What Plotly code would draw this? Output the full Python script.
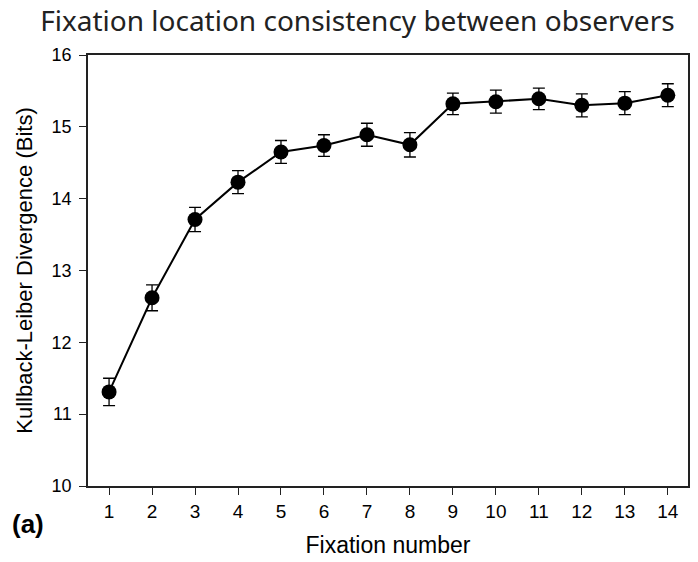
import plotly.graph_objects as go

# Fixation index and mean KL divergence between observers (bits)
fixation = list(range(1, 15))
kl_mean = [11.31, 12.62, 13.71, 14.23, 14.65, 14.74, 14.89, 14.75,
           15.32, 15.35, 15.39, 15.30, 15.33, 15.44]
kl_err = [0.19, 0.18, 0.17, 0.16, 0.16, 0.15, 0.16, 0.17,
          0.15, 0.16, 0.15, 0.16, 0.16, 0.16]
y_ticks = [10, 11, 12, 13, 14, 15, 16]

sans = "Liberation Sans, Arial, sans-serif"

fig = go.Figure()
fig.add_trace(go.Scatter(
    x=fixation, y=kl_mean,
    mode="lines+markers",
    line=dict(color="black", width=2),
    marker=dict(color="black", size=15),
    error_y=dict(type="data", array=kl_err, color="black",
                 thickness=1.3, width=6),
    showlegend=False,
))

fig.update_layout(
    width=698, height=562,
    margin=dict(l=88, r=8, t=55, b=74),
    plot_bgcolor="white", paper_bgcolor="white",
    title=dict(text="Fixation location consistency between observers",
               font=dict(family="Noto Sans, Open Sans, sans-serif", size=28, color="#222"),
               x=0.449, xanchor="center", xref="paper",
               y=0.9626, yref="container", yanchor="middle"),
    xaxis=dict(range=[0.51, 14.47], tickvals=fixation, ticks="outside",
               ticklen=7, tickwidth=1.3, tickcolor="#222",
               showline=True, linecolor="#222", linewidth=1.5, mirror=True,
               showgrid=False, zeroline=False,
               tickfont=dict(family=sans, size=19, color="black"),
               title=dict(text="Fixation number",
                          font=dict(family=sans, size=23, color="black"),
                          standoff=16)),
    yaxis=dict(range=[10, 16], tickvals=y_ticks, ticks="outside",
               ticklen=7, tickwidth=1.3, tickcolor="#222",
               ticklabelstandoff=4,
               showline=True, linecolor="#222", linewidth=1.5, mirror=True,
               showgrid=False, zeroline=False,
               tickfont=dict(family=sans, size=18, color="black"),
               title=dict(text="Kullback-Leiber Divergence (Bits)",
                          font=dict(family=sans, size=22, color="black"),
                          standoff=13)),
)

fig.add_annotation(text="<b>(a)</b>", xref="paper", yref="paper",
                   x=-0.1296, y=-0.089, xanchor="left", yanchor="middle",
                   showarrow=False,
                   font=dict(family=sans, size=26, color="black"))

fig.write_html("out.html")
